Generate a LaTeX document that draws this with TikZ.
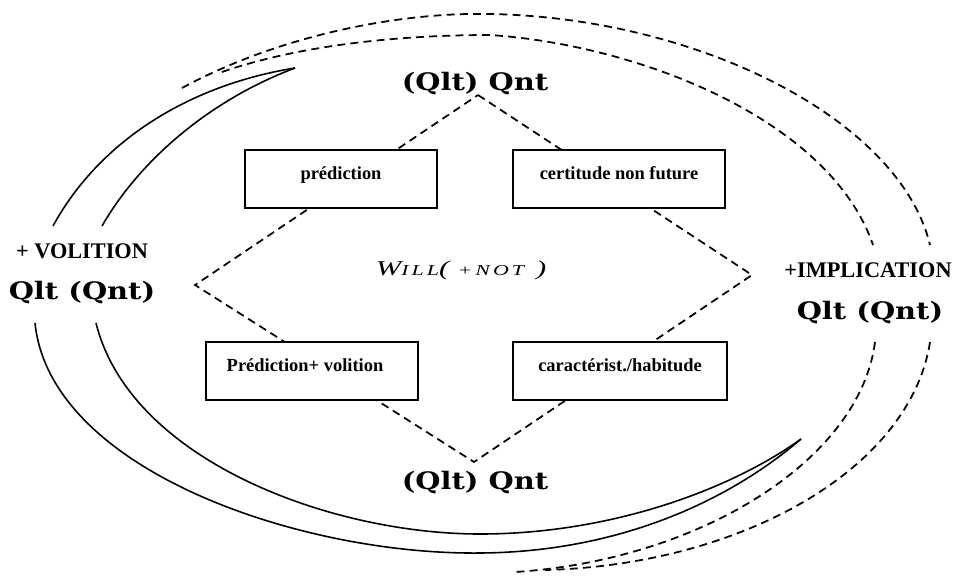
\documentclass[tikz,border=0pt]{standalone}
\usepackage{fontspec}
\setmainfont{Liberation Serif}
\newfontfamily\qfont{DejaVu Serif}[FakeStretch=1.2]
\newfontfamily\willfont{Liberation Serif}[FakeStretch=1.45,LetterSpace=20]

\begin{document}
\begin{tikzpicture}[
    x=0.02cm, y=-0.02cm,
    modbox/.style={draw, fill=white, line width=1.1pt, inner sep=0pt,
        minimum height=1.16cm, text height=0.3cm, text depth=0.3cm,
        font=\fontsize{10.5}{12}\selectfont\bfseries},
    dashline/.style={dash pattern=on 4.5pt off 3pt, line width=1pt},
    arcline/.style={line width=0.9pt},
    valeur/.style={inner sep=0pt, font=\fontsize{12.7}{14}\selectfont\bfseries},
    quant/.style={inner sep=0pt, font=\qfont\fontsize{13.7}{15}\selectfont\bfseries}
]
    \useasboundingbox (0,0) rectangle (956,575);

    % diamond
    \coordinate (top) at (478,95);
    \coordinate (right) at (752,275);
    \coordinate (bottom) at (474,462);
    \coordinate (left) at (195,285);
    \draw[dashline] (top) -- (right) -- (bottom) -- (left) -- cycle;

    \node[modbox, minimum width=3.84cm] (pred) at (341,179) {prédiction};
    \node[modbox, minimum width=4.24cm] (cert) at (619,179) {certitude non future};
    \node[modbox, minimum width=4.24cm] (predvol) at (312,371) {\hspace*{-0.28cm}Prédiction+ volition};
    \node[modbox, minimum width=4.28cm] (habit) at (620,371) {caractérist./habitude};

    \node[inner sep=0pt] (will) at (461,270) {\willfont\itshape\fontsize{12}{14}\selectfont
        W{\fontsize{8.6}{10}\selectfont ILL}({\fontsize{8.6}{10}\selectfont\ +NOT} )};

    \node[quant] (qtop) at (475,84) {(Qlt) Qnt};
    \node[quant] (qbot) at (475,483) {(Qlt) Qnt};
    \node[valeur] (vol) at (82,251) {+ VOLITION};
    \node[quant] (qvol) at (82,293) {Qlt (Qnt)};
    \node[valeur] (impl) at (868,270) {+IMPLICATION};
    \node[quant] (qimpl) at (870,313) {Qlt (Qnt)};

    % volition arcs
    \draw[arcline] (53,226) .. controls (100,140) and (190,85) .. (295,68);
    \draw[arcline] (102,226) .. controls (140,160) and (210,100) .. (295,68);
    \draw[arcline] (35,323) .. controls (50,470) and (300,555) .. (480,553)
        .. controls (620,552) and (730,500) .. (801,439);
    \draw[arcline] (96,323) .. controls (130,460) and (330,534) .. (480,534)
        .. controls (610,534) and (730,490) .. (801,439);

    % implication arcs
    \draw[dashline] (182,88) .. controls (280,35) and (400,12) .. (490,14)
        .. controls (700,18) and (900,120) .. (930,245);
    \draw[dashline] (222,72) .. controls (300,45) and (400,35) .. (490,35)
        .. controls (640,45) and (830,120) .. (873,245);
    \draw[dashline] (875,342) .. controls (860,460) and (700,560) .. (515,572);
    \draw[dashline] (930,342) .. controls (910,470) and (740,565) .. (545,570);
\end{tikzpicture}
\end{document}
